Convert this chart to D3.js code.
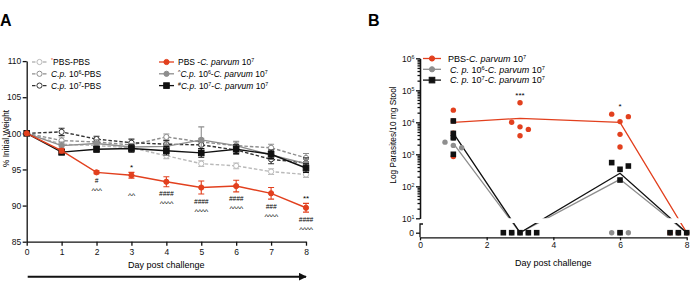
<!DOCTYPE html>
<html lang="en">
<head>
<meta charset="utf-8">
<title>Weight loss and parasite shedding after challenge</title>
<script src="https://cdn.jsdelivr.net/npm/d3@7"></script>
<style>
  body { margin: 0; background: #fff; }
  svg { font-family: "Liberation Sans", Arial, Helvetica, sans-serif; }
  .axis path, .axis line { stroke: #111; stroke-width: 1.3; }
  .axis text { fill: #111; }
</style>
</head>
<body>
<script>
// ---- panel A: % initial weight, mean +/- SEM ----
const days = [0, 1, 2, 3, 4, 5, 6, 7, 8];

const wPbsPbs = [100, 98.5, 98.3, 98.0, 96.9, 95.8, 95.5, 94.7, 94.3];
const ePbsPbs = [0, 0.4, 0.3, 0.4, 0.4, 0.4, 0.4, 0.4, 0.4];
const wCp6Pbs = [100, 99.0, 98.8, 98.4, 99.5, 98.8, 98.3, 98.0, 96.6];
const eCp6Pbs = [0, 0.5, 0.4, 0.4, 0.4, 0.5, 0.5, 0.5, 0.6];
const wCp7Pbs = [100, 100.2, 99.2, 98.7, 98.5, 98.4, 97.7, 96.4, 95.9];
const eCp7Pbs = [0, 0.5, 0.4, 0.5, 0.5, 0.5, 0.6, 0.6, 0.7];
const wCp6Cp = [100, 98.3, 98.6, 98.1, 98.2, 99.1, 98.3, 97.0, 95.8];
const eCp6Cp = [0, 0.5, 0.5, 0.5, 0.6, 1.8, 0.6, 0.6, 0.6];
const wCp7Cp = [100, 97.4, 97.8, 97.9, 97.6, 97.3, 97.8, 97.1, 95.2];
const eCp7Cp = [0, 0.4, 0.4, 0.5, 0.6, 0.6, 0.6, 0.6, 0.6];
const wPbsCp = [100, 97.6, 94.6, 94.2, 93.3, 92.5, 92.7, 91.7, 89.7];
const ePbsCp = [0, 0.3, 0.2, 0.4, 0.7, 0.9, 0.8, 0.8, 0.6];

const annotDays = [2, 3, 4, 5, 6, 7, 8];
const annotStar = ["", "*", "", "", "", "", "**"];
const annotHash = ["#", "", "####", "####", "####", "###", "####"];
const annotCaret = ["^^^", "^^", "^^^^", "^^^^", "^^^^", "^^^^", "^^^^"];

const weightTicks = [85, 90, 95, 100, 105, 110];

// ---- panel B: parasites / 10 mg stool, individual mice + mean ----
const bDays = [1, 3, 6, 8];
const meanPbsCp = [10000, 13300, 10000, 0];
const meanCp6Cp = [2200, 0, 165, 0];
const meanCp7Cp = [4600, 0, 255, 0];

const ptsPbsCp = [
  [1, 24000], [1, 11000], [1, 4600], [1, 850],
  [2.75, 10000], [3, 41000], [3, 7200], [3.25, 6000], [3, 3800],
  [5.75, 18000], [6.25, 15000], [6, 10500], [6, 4200], [6, 1700],
  [7.5, 0], [7.75, 0], [8, 0]
];
const ptsCp6Cp = [
  [0.75, 2400], [1, 1900], [1.25, 1600], [1, 3200],
  [2.75, 0], [3, 0], [3.25, 0],
  [5.75, 0], [6, 0], [6.25, 0],
  [7.75, 0], [8, 0]
];
const ptsCp7Cp = [
  [1, 11000], [1, 4500], [1, 3300], [1, 1000],
  [2.5, 0], [2.75, 0], [3, 0], [3.25, 0], [3.5, 0],
  [5.75, 550], [6.25, 430], [6, 340], [6, 157], [6, 0],
  [7.5, 0], [7.75, 0], [8, 0]
];
const bStars = [[3, "***", 41000], [6, "*", 18000]];
const bXTicks = [0, 2, 4, 6, 8];
const bDecades = [10, 100, 1000, 10000, 100000, 1000000];

const red = "#e2401e", grey = "#8e8e8e", lightGrey = "#b9b9b9", black = "#111";

const svg = d3.select("body").append("svg")
  .attr("width", 693).attr("height", 282);

// writes text made of parts: {t, i: italic, sup: superscript, c: colour}
function rich(sel, parts, size) {
  parts.forEach(p => {
    const t = sel.append("tspan").text(p.t);
    if (p.i) t.attr("font-style", "italic");
    if (p.sup) t.attr("baseline-shift", "super").attr("font-size", size * 0.62);
    if (p.c) t.attr("fill", p.c);
  });
  return sel;
}

function marker(g, type, x, y, col, fill) {
  if (type === "square") {
    g.append("rect").attr("x", x - 2.8).attr("y", y - 2.8).attr("width", 5.6).attr("height", 5.6)
      .attr("fill", fill).attr("stroke", col).attr("stroke-width", 1);
  } else {
    g.append("circle").attr("cx", x).attr("cy", y).attr("r", 2.6)
      .attr("fill", fill).attr("stroke", col).attr("stroke-width", 1);
  }
}

// ================= PANEL A =================
const xA = d3.scaleLinear().domain([0, 8]).range([26.7, 306]);
const yA = d3.scaleLinear().domain([85, 110]).range([241.7, 61.1]);

svg.append("text").attr("x", 0).attr("y", 26).attr("font-size", 16).attr("font-weight", "bold").text("A");

const gA = svg.append("g");

gA.append("g").attr("class", "axis").attr("transform", `translate(${xA(0)},0)`)
  .call(d3.axisLeft(yA).tickValues(weightTicks).tickSize(4).tickPadding(1.5).tickSizeOuter(0))
  .selectAll("text").attr("font-size", 8.5);
gA.append("g").attr("class", "axis").attr("transform", `translate(0,${yA(85)})`)
  .call(d3.axisBottom(xA).tickValues(days).tickSize(4).tickPadding(3).tickSizeOuter(0))
  .selectAll("text").attr("font-size", 8.5);

gA.append("text").attr("transform", `translate(9,${yA(99.3)}) rotate(-90)`)
  .attr("text-anchor", "middle").attr("font-size", 8.3).text("% Initial Weight");
gA.append("text").attr("x", (xA(0) + xA(8)) / 2).attr("y", 268)
  .attr("text-anchor", "middle").attr("font-size", 9).text("Day post challenge");

// arrow under the axis
svg.append("defs").append("marker").attr("id", "arr").attr("viewBox", "0 0 10 10")
  .attr("refX", 9).attr("refY", 5).attr("markerWidth", 4).attr("markerHeight", 4)
  .attr("orient", "auto").append("path").attr("d", "M0,0L10,5L0,10z").attr("fill", black);
gA.append("line").attr("x1", xA(0) + 1).attr("x2", xA(8)).attr("y1", 276.7).attr("y2", 276.7)
  .attr("stroke", black).attr("stroke-width", 2).attr("marker-end", "url(#arr)");

const seriesA = [
  { w: wPbsPbs, e: ePbsPbs, col: lightGrey, dash: "3.5,2", m: "circle", fill: "#fff" },
  { w: wCp6Pbs, e: eCp6Pbs, col: grey, dash: "3.5,2", m: "circle", fill: "#fff" },
  { w: wCp7Pbs, e: eCp7Pbs, col: "#333", dash: "3.5,2", m: "circle", fill: "#fff" },
  { w: wCp6Cp, e: eCp6Cp, col: grey, dash: null, m: "circle", fill: grey },
  { w: wCp7Cp, e: eCp7Cp, col: black, dash: null, m: "square", fill: black },
  { w: wPbsCp, e: ePbsCp, col: red, dash: null, m: "circle", fill: red }
];

const lineA = d3.line().x((d, i) => xA(days[i])).y(d => yA(d));

seriesA.forEach(s => {
  const g = gA.append("g");
  g.append("path").attr("d", lineA(s.w)).attr("fill", "none").attr("stroke", s.col)
    .attr("stroke-width", 1.4).attr("stroke-dasharray", s.dash);
  days.forEach((d, i) => {
    if (!s.e[i]) return;
    const x = xA(d), y0 = yA(s.w[i] - s.e[i]), y1 = yA(s.w[i] + s.e[i]);
    g.append("path").attr("d", `M${x},${y0}V${y1}M${x - 3},${y0}h6M${x - 3},${y1}h6`)
      .attr("stroke", s.col).attr("stroke-width", 1.1).attr("fill", "none");
  });
  days.forEach((d, i) => marker(g, s.m, xA(d), yA(s.w[i]), s.col, s.fill));
});

// significance marks around the red series
annotDays.forEach((d, k) => {
  const i = days.indexOf(d);
  const x = xA(d);
  const low = yA(wPbsCp[i] - ePbsCp[i]);
  const high = yA(wPbsCp[i] + ePbsCp[i]);
  if (annotStar[k]) gA.append("text").attr("x", x).attr("y", high - 2).attr("text-anchor", "middle")
    .attr("font-size", 8).text(annotStar[k]);
  if (annotHash[k]) gA.append("text").attr("x", x).attr("y", low + 9.5).attr("text-anchor", "middle")
    .attr("font-size", 6.5).attr("font-style", "italic").text(annotHash[k]);
  gA.append("text").attr("x", x).attr("y", low + 19.5).attr("text-anchor", "middle")
    .attr("font-size", 8).attr("letter-spacing", -0.4).text(annotCaret[k]);
});

// legend A
const legA = [
  { x: 32, row: 0, s: seriesA[0], parts: [{ t: "*", sup: true, c: red }, { t: "PBS-PBS" }] },
  { x: 32, row: 1, s: seriesA[1], parts: [{ t: "C.p.", i: true }, { t: " 10" }, { t: "6", sup: true }, { t: "-PBS" }] },
  { x: 32, row: 2, s: seriesA[2], parts: [{ t: "C.p.", i: true }, { t: " 10" }, { t: "7", sup: true }, { t: "-PBS" }] },
  { x: 159, row: 0, s: seriesA[5], parts: [{ t: "PBS -" }, { t: "C. parvum", i: true }, { t: " 10" }, { t: "7", sup: true }] },
  { x: 159, row: 1, s: seriesA[3], parts: [{ t: "^", sup: true }, { t: "C.p.", i: true }, { t: " 10" }, { t: "6", sup: true }, { t: "-" }, { t: "C. parvum", i: true }, { t: " 10" }, { t: "7", sup: true }] },
  { x: 159, row: 2, s: seriesA[4], parts: [{ t: "#", sup: true }, { t: "C.p.", i: true }, { t: " 10" }, { t: "7", sup: true }, { t: "-" }, { t: "C. parvum", i: true }, { t: " 10" }, { t: "7", sup: true }] }
];
legA.forEach(l => {
  const y = 62 + l.row * 11.8;
  const g = gA.append("g");
  g.append("line").attr("x1", l.x).attr("x2", l.x + 15).attr("y1", y).attr("y2", y)
    .attr("stroke", l.s.col).attr("stroke-width", 1.3).attr("stroke-dasharray", l.s.dash);
  marker(g, l.s.m, l.x + 7.5, y, l.s.col, l.s.fill);
  rich(g.append("text").attr("x", l.x + 19).attr("y", y + 3).attr("font-size", 8.5), l.parts, 8.5);
});

// ================= PANEL B =================
const xB = d3.scaleLinear().domain([0, 8]).range([420, 686.7]);
const yLog = d3.scaleLog().domain([10, 1e6]).range([218.3, 58.3]);
const yZero = d3.scaleLinear().domain([0, 1]).range([232.7, 224]);   // broken-axis segment holding the zeros
const yB = v => v > 0 ? yLog(v) : yZero(0);
const axisBaseY = 237.3;

svg.append("text").attr("x", 368).attr("y", 26).attr("font-size", 16).attr("font-weight", "bold").text("B");

const gB = svg.append("g");

// minor log ticks
const minor = [];
bDecades.slice(0, -1).forEach(d => { for (let k = 2; k <= 9; k++) minor.push(d * k); });
gB.append("g").attr("class", "axis").attr("transform", `translate(${xB(0)},0)`)
  .call(d3.axisLeft(yLog).tickValues(minor).tickSize(2.5).tickFormat("").tickSizeOuter(0));
const yAx = gB.append("g").attr("class", "axis").attr("transform", `translate(${xB(0)},0)`)
  .call(d3.axisLeft(yLog).tickValues(bDecades).tickSize(4).tickPadding(2).tickSizeOuter(0).tickFormat(""));
yAx.selectAll(".tick").append("text").attr("x", -5.5).attr("dy", "0.32em").attr("text-anchor", "end")
  .attr("font-size", 8.5).attr("fill", black)
  .each(function (d) {
    rich(d3.select(this), [{ t: "10" }, { t: String(Math.round(Math.log10(d))), sup: true }], 8.5);
  });

// zero segment of the broken axis
const zAx = gB.append("g").attr("class", "axis").attr("transform", `translate(${xB(0)},0)`)
  .call(d3.axisLeft(yZero).tickValues([0]).tickSize(4).tickPadding(2).tickSizeOuter(0).tickFormat(d3.format("d")));
zAx.select(".domain").attr("d", `M3,${yZero(1)}H0V${axisBaseY}`).attr("fill", "none");
zAx.selectAll("text").attr("font-size", 8.5);

gB.append("g").attr("class", "axis").attr("transform", `translate(0,${axisBaseY})`)
  .call(d3.axisBottom(xB).tickValues(bXTicks).tickSize(3).tickPadding(2).tickSizeOuter(0))
  .selectAll("text").attr("font-size", 8.5);

gB.append("text").attr("transform", `translate(396,${yLog(4000)}) rotate(-90)`)
  .attr("text-anchor", "middle").attr("font-size", 8.3).text("Log Parasites/10 mg Stool");
gB.append("text").attr("x", xB(4)).attr("y", 265.5).attr("text-anchor", "middle")
  .attr("font-size", 9).text("Day post challenge");

// mean lines, broken where the axis is broken
const defs = svg.select("defs");
defs.append("clipPath").attr("id", "clipTop").append("rect")
  .attr("x", xB(0)).attr("y", yLog(1e6) - 5).attr("width", 280).attr("height", yLog(10) - yLog(1e6) + 5);
defs.append("clipPath").attr("id", "clipBot").append("rect")
  .attr("x", xB(0)).attr("y", yZero(1) - 1).attr("width", 280).attr("height", 20);

const lineB = d3.line().x((d, i) => xB(bDays[i])).y(d => yB(d));
[[meanCp6Cp, grey], [meanCp7Cp, black], [meanPbsCp, red]].forEach(([m, col]) => {
  ["clipTop", "clipBot"].forEach(c => {
    gB.append("path").attr("d", lineB(m)).attr("fill", "none").attr("stroke", col)
      .attr("stroke-width", 1.3).attr("clip-path", `url(#${c})`);
  });
});

// individual mice
gB.append("g").selectAll("circle.r").data(ptsPbsCp).join("circle")
  .attr("cx", d => xB(d[0])).attr("cy", d => yB(d[1])).attr("r", 2.7).attr("fill", red);
gB.append("g").selectAll("circle.g").data(ptsCp6Cp).join("circle")
  .attr("cx", d => xB(d[0])).attr("cy", d => yB(d[1])).attr("r", 2.7).attr("fill", grey);
gB.append("g").selectAll("rect").data(ptsCp7Cp).join("rect")
  .attr("x", d => xB(d[0]) - 2.8).attr("y", d => yB(d[1]) - 2.8)
  .attr("width", 5.6).attr("height", 5.6).attr("fill", black);

bStars.forEach(([d, s, top]) => {
  gB.append("text").attr("x", xB(d)).attr("y", yLog(top) - 5).attr("text-anchor", "middle")
    .attr("font-size", 8).text(s);
});

// legend B
const legB = [
  { col: red, m: "circle", x: 448, parts: [{ t: "PBS-" }, { t: "C. parvum", i: true }, { t: " 10" }, { t: "7", sup: true }] },
  { col: grey, m: "circle", x: 450, parts: [{ t: "C. p.", i: true }, { t: " 10" }, { t: "6", sup: true }, { t: "-" }, { t: "C. parvum", i: true }, { t: " 10" }, { t: "7", sup: true }] },
  { col: black, m: "square", x: 450, parts: [{ t: "C. p.", i: true }, { t: " 10" }, { t: "7", sup: true }, { t: "-" }, { t: "C. parvum", i: true }, { t: " 10" }, { t: "7", sup: true }] }
];
legB.forEach((l, r) => {
  const y = 58.5 + r * 10.8;
  const g = gB.append("g");
  g.append("line").attr("x1", 423).attr("x2", 441).attr("y1", y).attr("y2", y)
    .attr("stroke", l.col).attr("stroke-width", 1.3);
  marker(g, l.m, 432, y, l.col, l.col);
  rich(g.append("text").attr("x", l.x).attr("y", y + 3.3).attr("font-size", 9), l.parts, 9);
});
</script>
</body>
</html>
